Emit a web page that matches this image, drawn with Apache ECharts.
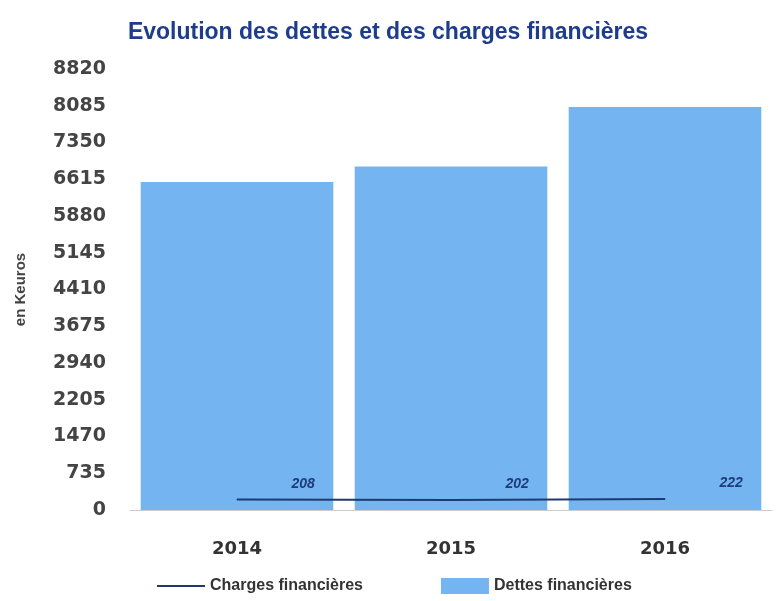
<!DOCTYPE html>
<html>
<head>
<meta charset="utf-8">
<script src="https://cdn.jsdelivr.net/npm/echarts@6/dist/echarts.min.js"></script>
<style>
    html, body { margin: 0; padding: 0; background: #ffffff; }
    #chart { width: 776px; height: 601px; }
</style>
</head>
<body>
<div id="chart"></div>
<script>
// données
var years = ['2014', '2015', '2016'];
var dettes = [6560, 6870, 8060];     // Dettes financières
var charges = [208, 202, 222];       // Charges financières
var yMax = 8820;
var yStep = 735;

var chart = echarts.init(document.getElementById('chart'));

var option = {
    backgroundColor: '#ffffff',
    textStyle: { fontFamily: 'Liberation Sans, Arial, sans-serif' },
    title: {
        text: 'Evolution des dettes et des charges financières',
        left: 'center',
        top: 16,
        textStyle: { color: '#1d3d8c', fontSize: 23, fontWeight: 'bold' }
    },
    legend: {
        bottom: 2,
        left: 152,
        itemGap: 78,
        itemWidth: 48,
        itemHeight: 16,
        textStyle: { color: '#333', fontSize: 16, fontWeight: 'bold' },
        data: [
            { name: 'Charges financières', icon: 'path://M0,7 L48,7 L48,9 L0,9 Z' },
            { name: 'Dettes financières', icon: 'rect' }
        ]
    },
    grid: { left: 130, right: 4, top: 69, bottom: 91 },
    xAxis: {
        type: 'category',
        data: years,
        axisLine: { lineStyle: { color: '#cccccc' } },
        axisTick: { show: false },
        axisLabel: {
            color: '#333',
            fontFamily: 'DejaVu Sans',
            fontSize: 18,
            fontWeight: 'bold',
            margin: 30
        }
    },
    yAxis: {
        type: 'value',
        min: 0,
        max: yMax,
        interval: yStep,
        name: 'en Keuros',
        nameLocation: 'middle',
        nameGap: 102,
        nameTextStyle: { color: '#444', fontSize: 15, fontWeight: 'bold' },
        splitLine: { show: false },
        axisLine: { show: false },
        axisTick: { show: false },
        axisLabel: {
            color: '#444',
            fontFamily: 'DejaVu Sans',
            fontSize: 19,
            fontWeight: 'bold',
            margin: 24,
            formatter: function (v) { return String(v); }
        }
    },
    series: [
        {
            name: 'Dettes financières',
            type: 'bar',
            data: dettes,
            barWidth: '90%',
            itemStyle: { color: '#74b4f0' },
            z: 1
        },
        {
            name: 'Charges financières',
            type: 'line',
            data: charges,
            symbol: 'circle',
            symbolSize: 1,
            showSymbol: true,
            itemStyle: { color: '#1f3b6b' },
            lineStyle: { color: '#1f3b6b', width: 2 },
            label: {
                show: true,
                position: [55, -22],
                color: '#1f3b7a',
                fontSize: 14,
                fontStyle: 'italic',
                fontWeight: 'bold'
            },
            labelLayout: { hideOverlap: false },
            z: 3
        }
    ]
};

chart.setOption(option);
</script>
</body>
</html>
